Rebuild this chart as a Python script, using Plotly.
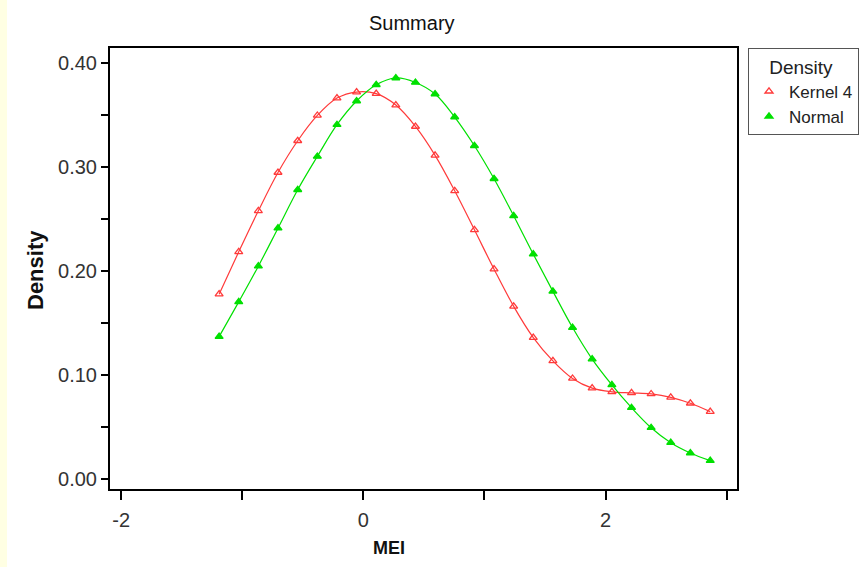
import plotly.graph_objects as go

# MEI values (evenly spaced grid)
mei = [-1.191, -1.029, -0.867, -0.705, -0.542, -0.380, -0.218, -0.056,
       0.106, 0.268, 0.430, 0.592, 0.754, 0.917, 1.079, 1.241,
       1.403, 1.565, 1.727, 1.889, 2.052, 2.214, 2.376, 2.538,
       2.700, 2.864]

kernel4 = [0.1779, 0.2186, 0.2580, 0.2948, 0.3253, 0.3496, 0.3663, 0.3721,
           0.3705, 0.3596, 0.3390, 0.3112, 0.2772, 0.2397, 0.2019, 0.1662,
           0.1362, 0.1138, 0.0969, 0.0876, 0.0841, 0.0830, 0.0820, 0.0788,
           0.0731, 0.0650]

normal = [0.1371, 0.1705, 0.2048, 0.2413, 0.2782, 0.3102, 0.3407, 0.3635,
          0.3791, 0.3856, 0.3813, 0.3702, 0.3481, 0.3205, 0.2888, 0.2532,
          0.2163, 0.1806, 0.1458, 0.1155, 0.0907, 0.0688, 0.0496, 0.0352,
          0.0253, 0.0179]

x_tickvals = [-2, -1, 0, 1, 2, 3]
x_ticktext = ["-2", "", "0", "", "2", ""]
y_tickvals = [0.0, 0.05, 0.10, 0.15, 0.20, 0.25, 0.30, 0.35, 0.40]
y_ticktext = ["0.00", "", "0.10", "", "0.20", "", "0.30", "", "0.40"]

RED = "#FF3a3a"
GREEN = "#00E000"
FONT = "Liberation Sans, Arial, sans-serif"

fig = go.Figure()
# smooth lines (no legend entry), markers carry the legend like the original
for name, ys, col, sym in [("Kernel 4", kernel4, RED, "triangle-up-open"),
                           ("Normal", normal, GREEN, "triangle-up")]:
    fig.add_trace(go.Scatter(
        x=mei, y=ys, mode="lines", showlegend=False, hoverinfo="skip",
        line=dict(color=col, width=1.2, shape="spline"),
    ))
    fig.add_trace(go.Scatter(
        x=mei, y=ys, name=name, mode="markers",
        marker=dict(symbol=sym, size=7, color=col, line=dict(width=1.3, color=col)),
    ))

W, H = 863, 567
L, R, T, B = 110, 126, 48, 78
pw = W - L - R
ph = H - T - B

fig.update_layout(
    width=W, height=H,
    margin=dict(l=L, r=R, t=T, b=B, autoexpand=False),
    paper_bgcolor="white",
    plot_bgcolor="white",
    font=dict(family=FONT, size=20, color="#333333"),
    legend=dict(
        x=1 + 11 / pw, y=1, xanchor="left", yanchor="top",
        bordercolor="#555555", borderwidth=1, bgcolor="white",
        title=dict(text="Density ", side="top center", font=dict(size=19, color="#222222")),
        font=dict(size=17, color="#222222"), itemwidth=30, tracegroupgap=0,
    ),
    shapes=[dict(type="rect", xref="paper", yref="paper",
                 x0=-L / pw, x1=(7 - L) / pw, y0=-B / ph, y1=1 + T / ph,
                 fillcolor="#FFFFE3", line=dict(width=0), layer="below")],
    annotations=[
        dict(text="Summary", xref="paper", yref="paper",
             x=(412 - L) / pw, y=1 + (48 - 23) / ph, xanchor="center", yanchor="middle",
             showarrow=False, font=dict(size=20, color="#111111")),
        dict(text="<b>MEI</b>", xref="paper", yref="paper",
             x=(389 - L) / pw, y=-(548 - 489) / ph, xanchor="center", yanchor="middle",
             showarrow=False, font=dict(size=18, color="#111111")),
        dict(text="<b>Density</b>", xref="paper", yref="paper", textangle=-90,
             x=-(L - 35) / pw, y=(489 - 270) / ph, xanchor="center", yanchor="middle",
             showarrow=False, font=dict(size=22, color="#111111")),
    ],
)

fig.update_xaxes(
    range=[-2.092, 3.085], tickvals=x_tickvals, ticktext=x_ticktext,
    showgrid=False, zeroline=False, automargin=False,
    showline=True, mirror=True, linecolor="black", linewidth=2,
    ticks="outside", ticklen=9, tickwidth=2, tickcolor="black",
    tickfont=dict(size=20, color="#333333"), ticklabelstandoff=3,
)
fig.update_yaxes(
    range=[-0.0093, 0.4144], tickvals=y_tickvals, ticktext=y_ticktext,
    showgrid=False, zeroline=False, automargin=False,
    showline=True, mirror=True, linecolor="black", linewidth=2,
    ticks="outside", ticklen=7, tickwidth=2, tickcolor="black",
    tickfont=dict(size=20, color="#333333"), ticklabelstandoff=0,
)

# the page's default body margin would shift the figure by 8px
fig.write_html("out.html", config={"displayModeBar": False},
               post_script="document.body.style.margin='0';")
